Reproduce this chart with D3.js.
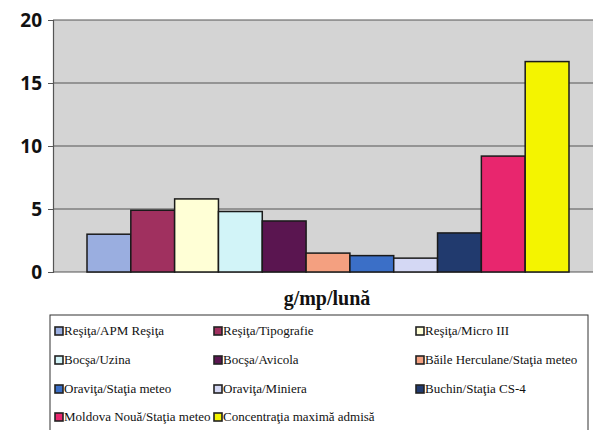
<!DOCTYPE html>
<html>
<head>
<meta charset="utf-8">
<script src="https://cdn.jsdelivr.net/npm/d3@7"></script>
</head>
<body style="margin:0">
<svg id="chart" width="593" height="430"></svg>
<script>
// date
const stations = [
  'Reşiţa/APM Reşiţa', 'Reşiţa/Tipografie', 'Reşiţa/Micro III',
  'Bocşa/Uzina', 'Bocşa/Avicola', 'Băile Herculane/Staţia meteo',
  'Oraviţa/Staţia meteo', 'Oraviţa/Miniera', 'Buchin/Staţia CS-4',
  'Moldova Nouă/Staţia meteo', 'Concentraţia maximă admisă'
];
const values = [3.0, 4.9, 5.8, 4.8, 4.05, 1.5, 1.3, 1.1, 3.1, 9.2, 16.7];
const colors = ['#9aaee0', '#a0305f', '#ffffd6', '#d2f4f8', '#5a1550', '#f4a080',
                '#3b6fc7', '#d4d8f4', '#213a6e', '#e8266e', '#f4f400'];
const yTicks = [0, 5, 10, 15, 20];
const axisTitle = 'g/mp/lună';

const svg = d3.select('#chart');

const plot = { left: 53, right: 600, top: 20, bottom: 272 };

const y = d3.scaleLinear().domain([0, 20]).range([plot.bottom, plot.top]);
const x = d3.scaleBand().domain(stations).range([87, 569]).padding(0);

// fundal gri
svg.append('rect')
  .attr('x', plot.left).attr('y', plot.top)
  .attr('width', plot.right - plot.left).attr('height', plot.bottom - plot.top)
  .attr('fill', '#d4d4d4');

// linii de grilă
svg.append('g')
  .selectAll('line')
  .data(yTicks)
  .join('line')
  .attr('x1', plot.left).attr('x2', plot.right)
  .attr('y1', d => y(d)).attr('y2', d => y(d))
  .attr('stroke', '#555')
  .attr('stroke-width', 1.2);

// axa Y
const yAxis = svg.append('g')
  .attr('transform', `translate(${plot.left},0)`)
  .call(d3.axisLeft(y).tickValues(yTicks).tickSize(5).tickPadding(6));
yAxis.attr('font-family', 'Open Sans').attr('font-size', 19).attr('font-weight', 'bold');
yAxis.select('.domain').attr('stroke', '#555').attr('stroke-width', 1.2);
yAxis.selectAll('.tick line').attr('stroke', '#555');
yAxis.selectAll('.tick text').attr('fill', '#111');

// bare
svg.append('g')
  .selectAll('rect')
  .data(stations)
  .join('rect')
  .attr('x', d => x(d))
  .attr('y', (d, i) => y(values[i]))
  .attr('width', x.bandwidth())
  .attr('height', (d, i) => plot.bottom - y(values[i]))
  .attr('fill', (d, i) => colors[i])
  .attr('stroke', '#1a1a1a')
  .attr('stroke-width', 1.5);

// titlul axei
svg.append('text')
  .attr('font-family', 'Liberation Serif')
  .attr('x', 327).attr('y', 305)
  .attr('text-anchor', 'middle')
  .attr('font-size', 20)
  .attr('font-weight', 'bold')
  .attr('fill', '#111')
  .text(axisTitle);

// legenda
svg.append('rect')
  .attr('x', 50).attr('y', 315)
  .attr('width', 538).attr('height', 130)
  .attr('fill', '#fff')
  .attr('stroke', '#333')
  .attr('stroke-width', 1);

const colX = [55, 214, 416];
const rowY = [332, 361, 390, 418];

svg.append('g')
  .selectAll('rect')
  .data(stations)
  .join('rect')
  .attr('x', (d, i) => colX[i % 3])
  .attr('y', (d, i) => rowY[Math.floor(i / 3)] - 5)
  .attr('width', 8).attr('height', 8)
  .attr('fill', (d, i) => colors[i])
  .attr('stroke', '#222')
  .attr('stroke-width', 1.6);

svg.selectAll('text.leg')
  .data(stations)
  .join('text')
  .attr('class', 'leg')
  .attr('font-family', 'Liberation Serif')
  .attr('font-size', 13)
  .attr('x', (d, i) => colX[i % 3] + 9)
  .attr('y', (d, i) => rowY[Math.floor(i / 3)] + 3)
  .attr('fill', '#111')
  .text(d => d);
</script>
</body>
</html>
